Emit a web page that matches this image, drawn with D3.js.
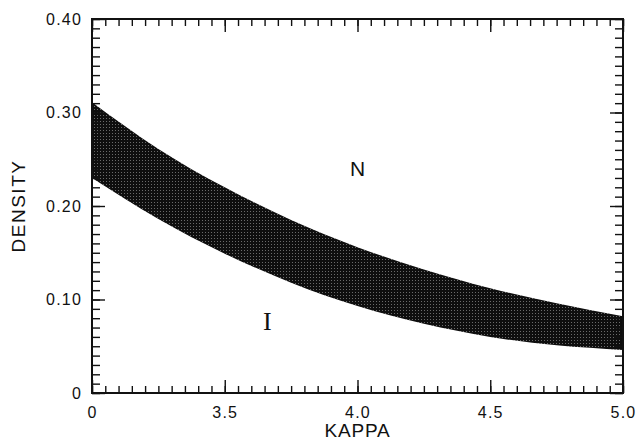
<!DOCTYPE html>
<html><head><meta charset="utf-8">
<script src="https://cdn.jsdelivr.net/npm/d3@7"></script>
<style>body{margin:0;background:#fff}svg{display:block}</style>
</head><body>
<svg id="c" width="639" height="442"></svg>
<script>
const kappa = [3.0, 3.25, 3.5, 3.75, 4.0, 4.25, 4.5, 4.75, 5.0];
const upperDensity = [0.311, 0.261, 0.220, 0.185, 0.156, 0.132, 0.112, 0.096, 0.082];
const lowerDensity = [0.230, 0.186, 0.149, 0.118, 0.093, 0.074, 0.060, 0.051, 0.046];
const xTickValues = [3.0, 3.5, 4.0, 4.5, 5.0];
const xTickLabels = ["0", "3.5", "4.0", "4.5", "5.0"];
const yTickValues = [0, 0.1, 0.2, 0.3, 0.4];
const yTickLabels = ["0", "0.10", "0.20", "0.30", "0.40"];
const regionLabels = [{text: "N", k: 4.0, d: 0.240, serif: false}, {text: "I", k: 3.66, d: 0.076, serif: true}];

const svg = d3.select("#c");
const L = 92, R = 623, T = 19, B = 393;
const x = d3.scaleLinear().domain([3, 5]).range([L, R]);
const y = d3.scaleLinear().domain([0, 0.4]).range([B, T]);

// stipple pattern
const defs = svg.append("defs");
const pat = defs.append("pattern").attr("id", "stip").attr("width", 3).attr("height", 3).attr("patternUnits", "userSpaceOnUse");
pat.append("rect").attr("width", 3).attr("height", 3).attr("fill", "#0e0e0e");
pat.append("rect").attr("x", 1).attr("y", 1).attr("width", 1).attr("height", 1).attr("fill", "#6a6a6a");

const rows = kappa.map((k, i) => ({k, u: upperDensity[i], l: lowerDensity[i]}));
const area = d3.area().x(d => x(d.k)).y0(d => y(d.l)).y1(d => y(d.u)).curve(d3.curveNatural);
svg.append("path").datum(rows).attr("d", area).attr("fill", "url(#stip)");

const minorX = d3.range(0, 41).map(i => 3 + i * 0.05);
const minorY = d3.range(0, 41).map(i => i * 0.01);
const tickStyle = g => { g.select(".domain").remove(); g.selectAll(".tick line").attr("stroke", "#111").attr("stroke-width", 1.4); g.selectAll("text").remove(); };

// minor ticks
svg.append("g").attr("transform", `translate(0,${B})`).call(d3.axisBottom(x).tickValues(minorX).tickSize(-7)).call(tickStyle);
svg.append("g").attr("transform", `translate(0,${T})`).call(d3.axisTop(x).tickValues(minorX).tickSize(-7)).call(tickStyle);
svg.append("g").attr("transform", `translate(${L},0)`).call(d3.axisLeft(y).tickValues(minorY).tickSize(-8)).call(tickStyle);
svg.append("g").attr("transform", `translate(${R},0)`).call(d3.axisRight(y).tickValues(minorY).tickSize(-8)).call(tickStyle);
// major ticks
svg.append("g").attr("transform", `translate(0,${B})`).call(d3.axisBottom(x).tickValues(xTickValues).tickSize(-13)).call(tickStyle);
svg.append("g").attr("transform", `translate(0,${T})`).call(d3.axisTop(x).tickValues(xTickValues).tickSize(-13)).call(tickStyle);
svg.append("g").attr("transform", `translate(${L},0)`).call(d3.axisLeft(y).tickValues(yTickValues).tickSize(-13)).call(tickStyle);
svg.append("g").attr("transform", `translate(${R},0)`).call(d3.axisRight(y).tickValues(yTickValues).tickSize(-13)).call(tickStyle);

// frame
svg.append("rect").attr("x", L).attr("y", T).attr("width", R - L).attr("height", B - T)
  .attr("fill", "none").attr("stroke", "#111").attr("stroke-width", 2);

// tick labels via axes
const gx = svg.append("g").attr("transform", `translate(0,${B})`)
  .call(d3.axisBottom(x).tickValues(xTickValues).tickSize(0).tickPadding(14).tickFormat((d, i) => xTickLabels[i]));
gx.select(".domain").remove();
gx.selectAll("text").attr("font-family", "Liberation Sans, Arial, sans-serif").attr("font-size", 16).attr("letter-spacing", 1.2).attr("fill", "#111");

const gy = svg.append("g").attr("transform", `translate(${L},0)`)
  .call(d3.axisLeft(y).tickValues(yTickValues).tickSize(0).tickPadding(10).tickFormat((d, i) => yTickLabels[i]));
gy.select(".domain").remove();
gy.selectAll("text").attr("font-family", "Liberation Sans, Arial, sans-serif").attr("font-size", 16).attr("letter-spacing", 1.2).attr("fill", "#111");

// axis titles
svg.append("text").attr("x", (L + R) / 2).attr("y", 437).attr("text-anchor", "middle")
  .attr("font-family", "Liberation Sans, Arial, sans-serif").attr("font-size", 19).attr("letter-spacing", 0.8).attr("fill", "#111").text("KAPPA");
svg.append("text").attr("transform", `translate(25,${(T + B) / 2}) rotate(-90)`).attr("text-anchor", "middle")
  .attr("font-family", "Liberation Sans, Arial, sans-serif").attr("font-size", 19).attr("letter-spacing", 1.5).attr("fill", "#111").text("DENSITY");

// region labels
svg.selectAll("text.reg").data(regionLabels).join("text").attr("class", "reg")
  .attr("x", d => x(d.k)).attr("y", d => y(d.d)).attr("text-anchor", "middle").attr("dominant-baseline", "central")
  .attr("font-family", d => d.serif ? "Liberation Serif, Times New Roman, serif" : "Liberation Sans, Arial, sans-serif")
  .attr("font-size", d => d.serif ? 26 : 21).attr("fill", "#111").text(d => d.text);
</script>
</body></html>
